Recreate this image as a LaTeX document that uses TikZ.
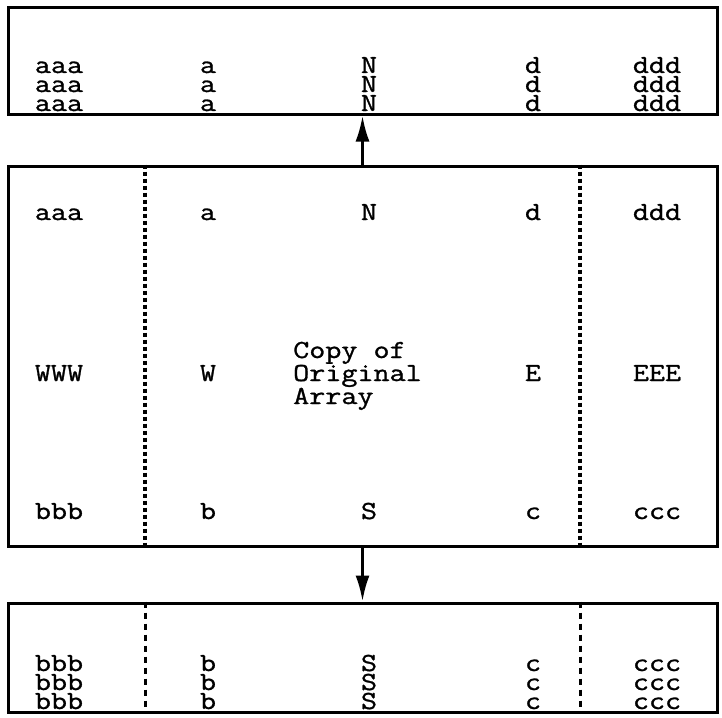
\documentclass[tikz,border=0pt]{standalone}
\usepackage{fontspec}
\setmonofont{Latin Modern Mono}[FakeStretch=1.2,FakeBold=1.1]
\usetikzlibrary{arrows.meta}

\begin{document}
\begin{tikzpicture}[x=1pt,y=-1pt,
box/.style={draw,line width=3pt,minimum width=709pt,inner sep=0pt},
cell/.style={font=\ttfamily\fontsize{26}{23}\selectfont,anchor=base,inner sep=0pt},
sep/.style={line width=3.5pt,dash pattern=on 4pt off 3pt},
gap/.style={line width=3pt,dash pattern=on 6pt off 5pt},
arr/.style={-{Latex[length=26pt,width=14pt]},line width=3pt}]
\useasboundingbox (0,0) rectangle (722,717);
\node[box,minimum height=106pt] (upper) at (362.5,61) {};
\node[box,minimum height=380pt] (orig) at (362.5,356) {};
\node[box,minimum height=109pt] (lower) at (362.5,657.5) {};
\coordinate (wcut) at (145,0);
\coordinate (ecut) at (580,0);
% original array
\draw[sep] (wcut |- orig.north) -- (wcut |- orig.south);
\draw[sep] (ecut |- orig.north) -- (ecut |- orig.south);
\foreach \col/\x/\txt in {1/59/aaa,2/208/a,3/369/N,4/533/d,5/657/ddd}
  \node[cell] (north\col) at (\x,220) {\txt};
\foreach \col/\x/\txt in {1/59/WWW,2/208/W,4/533/E,5/657/EEE}
  \node[cell] (mid\col) at (\x,381) {\txt};
\foreach \col/\x/\txt in {1/59/bbb,2/208/b,3/369/S,4/533/c,5/657/ccc}
  \node[cell] (south\col) at (\x,519) {\txt};
\node[cell,anchor=base west,align=left] (copy) at (293,404) {Copy of\\Original\\Array};
% ghost rows
\foreach \col/\x/\txt in {1/59/aaa,2/208/a,3/369/N,4/533/d,5/657/ddd}
  \foreach \row/\y in {1/73,2/92,3/111}
    \node[cell] (up\col\row) at (\x,\y) {\txt};
\draw[gap] (wcut |- lower.north) -- (wcut |- lower.south);
\draw[gap] (ecut |- lower.north) -- (ecut |- lower.south);
\foreach \col/\x/\txt in {1/59/bbb,2/208/b,3/369/S,4/533/c,5/657/ccc}
  \foreach \row/\y in {1/671,2/690,3/709}
    \node[cell] (lo\col\row) at (\x,\y) {\txt};
\draw[arr] (orig.north) -- (upper.south);
\draw[arr] (orig.south) -- (lower.north);
\end{tikzpicture}
\end{document}
